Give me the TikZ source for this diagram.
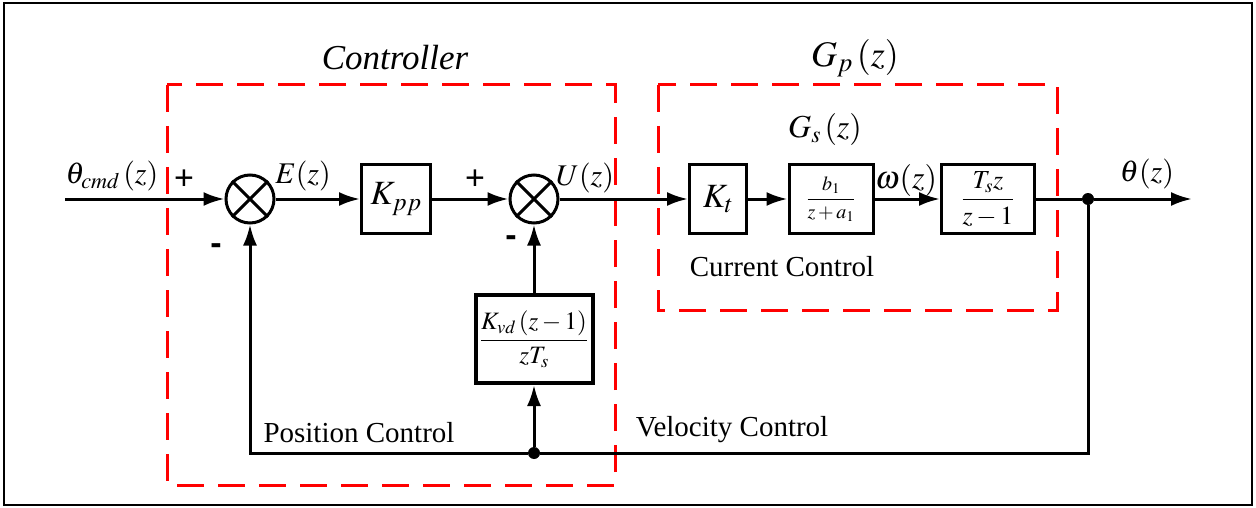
\documentclass[tikz,border=0pt]{standalone}
\usepackage{amsmath}
\usepackage{mathptmx}
\usepackage{fontspec}
\setmainfont{Liberation Serif}
\setsansfont{Liberation Sans}
\usepackage{tikz}
\usetikzlibrary{arrows.meta, positioning, calc}
\tikzstyle{block} = [draw, rectangle, line width=3pt, minimum width=69pt, minimum height=69pt, inner sep=0pt, font=\fontsize{34}{38}\selectfont]
\tikzstyle{sum} = [draw, circle, line width=3pt, minimum size=48pt, inner sep=0pt]
\tikzstyle{jdot} = [circle, fill=black, minimum size=12pt, inner sep=0pt]
\tikzstyle{wire} = [draw, line width=3pt]
\tikzstyle{arrow} = [draw, -{Latex[length=21pt,width=14pt]}, line width=3pt]
\tikzstyle{group} = [draw=red, line width=3pt, dash pattern=on 27pt off 14pt]
\tikzstyle{lbl} = [inner sep=0pt, font=\fontsize{30}{34}\selectfont]
\tikzstyle{caption} = [inner sep=0pt, font=\fontsize{29}{33}\selectfont]
\tikzstyle{sign} = [inner sep=0pt, font=\sffamily\fontsize{34}{38}\selectfont]

\begin{document}
\begin{tikzpicture}[x=1pt, y=-1pt]
    \useasboundingbox (0,0) rectangle (1256,508);
    \draw[line width=2pt] (4,3) rectangle (1252,505);

    % controller and plant groups
    \draw[group] (167,85) rectangle (615,485);
    \draw[group] (658,85) rectangle (1057,310);
    \node (ctrl) [inner sep=0pt, font=\itshape\fontsize{35}{40}\selectfont] at (395,58) {Controller};
    \node (gp) [inner sep=0pt, font=\fontsize{36}{40}\selectfont] at (855,58) {$G_{p}\,(z)$};
    \node (gs) [inner sep=0pt, font=\fontsize{32}{36}\selectfont] at (825,130) {$G_{s}\,(z)$};

    \coordinate (in) at (65,199);
    \node (sum1) [sum] at (250,199) {};
    \node (kpp) [block] at (396,199) {$K_{pp}$};
    \node (sum2) [sum] at (534,199) {};
    \node (kt) [block, minimum width=57pt] at (718,199) {$K_{t}$};
    \node (cur) [block, minimum width=84pt, font=\fontsize{20}{24}\selectfont] at (831,199) {$\dfrac{b_{1}}{z+a_{1}}$};
    \node (integ) [block, minimum width=93pt, font=\fontsize{26}{30}\selectfont] at (988,199) {$\dfrac{T_{s}z}{z-1}$};
    \node (junc) [jdot] at (1088,199) {};
    \coordinate (out) at (1192,199);
    \node (kvd) [block, minimum width=117pt, minimum height=88pt, line width=4pt, font=\fontsize{25}{29}\selectfont] at (534,339) {$\dfrac{K_{vd}\,(z-1)}{zT_{s}}$};
    \coordinate (fbr) at (1088,453);
    \node (fbdot) [jdot] at (534,453) {};

    \draw[wire] (sum1.north east) -- (sum1.south west);
    \draw[wire] (sum1.north west) -- (sum1.south east);
    \draw[wire] (sum2.north east) -- (sum2.south west);
    \draw[wire] (sum2.north west) -- (sum2.south east);

    % forward path
    \draw[arrow] (in) -- (sum1);
    \draw[arrow] (sum1) -- (kpp);
    \draw[arrow] (kpp) -- (sum2);
    \draw[arrow] (sum2) -- (kt);
    \draw[arrow] (kt) -- (cur);
    \draw[arrow] (cur) -- (integ);
    \draw[wire] (integ) -- (junc);
    \draw[arrow] (junc) -- (out);

    % feedback
    \draw[wire] (junc) -- (fbr) -- (fbdot);
    \draw[arrow] (fbdot) -| (sum1);
    \draw[arrow] (fbdot) -- (kvd);
    \draw[arrow] (kvd) -- (sum2);

    % signals
    \node (thcmd) [lbl] at (112,176) {$\theta_{cmd}\,(z)$};
    \node (ez) [lbl] at (303,176) {$E(z)$};
    \node (uz) [lbl] at (585,178) {$U(z)$};
    \node (wz) [lbl, font=\fontsize{32}{36}\selectfont] at (906,181) {$\omega(z)$};
    \node (thz) [lbl] at (1147,174) {$\theta(z)$};
    \node (p1) [sign] at (184,180) {+};
    \node (p2) [sign] at (475,180) {+};
    \node (m1) [sign] at (216,249) {\textbf{-}};
    \node (m2) [sign] at (511,241) {\textbf{-}};

    \node (curtxt) [caption] at (782,267) {Current Control};
    \node (postxt) [caption] at (359,433) {Position Control};
    \node (veltxt) [caption] at (732,430) {Velocity Control};
\end{tikzpicture}
\end{document}
